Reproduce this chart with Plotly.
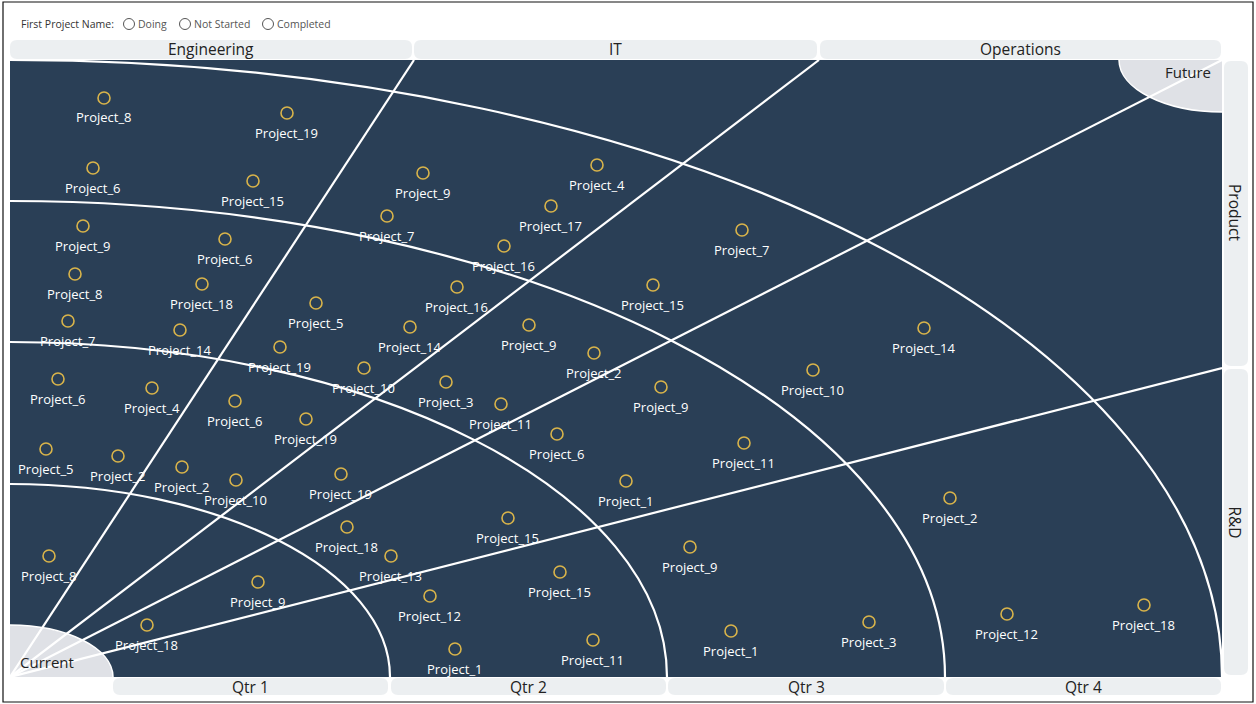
import plotly.graph_objects as go

W, H = 1256, 704
project_names = ["Project_8","Project_19","Project_6","Project_15","Project_9","Project_4","Project_17","Project_7","Project_9","Project_6",
 "Project_7","Project_16","Project_8","Project_18","Project_16","Project_15","Project_5","Project_7","Project_14","Project_14",
 "Project_9","Project_14","Project_19","Project_2","Project_10","Project_10","Project_6","Project_4","Project_3","Project_9",
 "Project_6","Project_11","Project_19","Project_6","Project_11","Project_5","Project_2","Project_2","Project_10","Project_19",
 "Project_1","Project_2","Project_15","Project_18","Project_9","Project_13","Project_8","Project_15","Project_9","Project_12",
 "Project_18","Project_12","Project_3","Project_18","Project_1","Project_11","Project_1"]
time_values = [104,287,93,253,423,597,551,387,83,225,
 742,504,75,202,457,653,316,68,180,410,
 529,924,280,594,364,813,58,152,446,661,
 235,501,306,557,744,46,118,182,236,341,
 626,950,508,347,690,391,49,560,258,430,
 1144,1007,869,147,731,593,455]
scope_values = [98,113,168,181,173,165,206,216,226,239,
 230,246,274,284,287,285,303,321,330,327,
 325,328,347,353,368,370,379,388,382,387,
 401,404,419,434,443,449,456,467,480,474,
 481,498,518,527,547,556,556,572,582,596,
 605,614,622,625,631,640,649]
column_labels = ["Engineering", "IT", "Operations"]
row_labels = ["Product", "R&D"]
quarter_labels = ["Qtr 1", "Qtr 2", "Qtr 3", "Qtr 4"]
status_labels = ["Doing", "Not Started", "Completed"]
arc_radii_x = [380, 657, 935, 1212]
arc_radii_y = [193, 335, 476, 617]
ray_ends_x = [414, 819, 1222, 1222]
ray_ends_y = [60, 60, 60, 368]

L, R, T, B = 10, 1222, 60, 677
NAVY, WHITE, PALE, STRIP = "#2a3f56", "#ffffff", "#dfe1e6", "#eceff1"
FONT = "Open Sans"
K = 0.5523
shapes, annos = [], []

def quarter(cx, cy, rx, ry, sx, sy, close=False):
    p = (f"M {cx+sx*rx},{cy} C {cx+sx*rx},{cy+sy*K*ry} {cx+sx*K*rx},{cy+sy*ry} {cx},{cy+sy*ry}")
    return p + (f" L {cx},{cy} Z" if close else "")

def round_rect(x0, y0, x1, y1, r=7):
    fx = lambda v: v / W
    fy = lambda v: 1 - v / H
    p = (f"M {fx(x0+r)},{fy(y0)} L {fx(x1-r)},{fy(y0)} Q {fx(x1)},{fy(y0)} {fx(x1)},{fy(y0+r)} "
         f"L {fx(x1)},{fy(y1-r)} Q {fx(x1)},{fy(y1)} {fx(x1-r)},{fy(y1)} L {fx(x0+r)},{fy(y1)} "
         f"Q {fx(x0)},{fy(y1)} {fx(x0)},{fy(y1-r)} L {fx(x0)},{fy(y0+r)} Q {fx(x0)},{fy(y0)} {fx(x0+r)},{fy(y0)} Z")
    shapes.append(dict(type="path", xref="paper", yref="paper", path=p, fillcolor=STRIP, line_width=0, layer="below"))

def label(text, px, py, size=15, color="#222222", angle=0, anchor="center"):
    annos.append(dict(text=text, xref="paper", yref="paper", x=px / W, y=1 - py / H, showarrow=False,
                      xanchor=anchor, yanchor="middle", textangle=angle, font=dict(family=FONT, size=size, color=color)))

# corner zones
shapes.append(dict(type="path", xref="x", yref="y", path=quarter(L, B, 103, 52, 1, -1, True), fillcolor=PALE, line_width=0, layer="below"))
shapes.append(dict(type="path", xref="x", yref="y", path=quarter(R, T, 103, 52, -1, 1, True), fillcolor=PALE, line_width=0, layer="below"))
shapes.append(dict(type="path", xref="x", yref="y", path=quarter(R, T, 103, 52, -1, 1), line=dict(color=WHITE, width=1.5), layer="below"))
shapes.append(dict(type="path", xref="x", yref="y", path=quarter(L, B, 103, 52, 1, -1), line=dict(color=WHITE, width=1.5), layer="below"))
# arcs and rays
for rx, ry in zip(arc_radii_x, arc_radii_y):
    shapes.append(dict(type="path", xref="x", yref="y", path=quarter(L, B, rx, ry, 1, -1), line=dict(color=WHITE, width=2.2), layer="below"))
for ex, ey in zip(ray_ends_x, ray_ends_y):
    shapes.append(dict(type="line", xref="x", yref="y", x0=L, y0=B, x1=ex, y1=ey, line=dict(color=WHITE, width=2.2), layer="below"))

# header strips
for text, (x0, x1) in zip(column_labels, [(10, 412), (414, 817), (820, 1221)]):
    round_rect(x0, 40, x1, 59)
    label(text, (x0 + x1) / 2, 49, size=15.5)
for text, (x0, x1) in zip(quarter_labels, [(113, 388), (391, 666), (668, 944), (946, 1221)]):
    round_rect(x0, 678, x1, 695)
    label(text, (x0 + x1) / 2, 687, size=15.5)
for text, (y0, y1) in zip(row_labels, [(61, 366), (369, 675)]):
    round_rect(1224, y0, 1248, y1)
    label(text, 1234.5, (y0 + y1) / 2 - (1 if text == "Product" else 0), size=15.5, angle=90)

label("Future", 1188, 72)
label("Current", 47, 662)

# status filter
label("First Project Name:", 18.5, 24, size=10.5, color="#333333", anchor="left")
for text, cx in zip(status_labels, [129, 185, 268]):
    shapes.append(dict(type="circle", xref="paper", yref="paper", x0=(cx - 5.5) / W, x1=(cx + 5.5) / W,
                       y0=1 - (24 + 5.5) / H, y1=1 - (24 - 5.5) / H, line=dict(color="#555555", width=1), fillcolor="white"))
    label(text, cx + 6.5, 24, size=10.5, color="#555555", anchor="left")

# frame
shapes.append(dict(type="rect", xref="paper", yref="paper", x0=3 / W, x1=1253 / W, y0=1 - 702 / H, y1=1 - 2 / H,
                   line=dict(color="#111111", width=1.2), fillcolor="rgba(0,0,0,0)", layer="below"))

for name, x, y in zip(project_names, time_values, scope_values):
    annos.append(dict(text=name, x=x - 0.5, y=y, xref="x", yref="y", yshift=-19.5, showarrow=False,
                      font=dict(family=FONT, size=13, color="white")))

fig = go.Figure(go.Scatter(x=time_values, y=scope_values, mode="markers", text=project_names, hoverinfo="text",
                           marker=dict(symbol="circle-open", size=12, color="#d9b44a", line=dict(width=1.6, color="#d9b44a"))))
fig.update_layout(width=W, height=H, margin=dict(l=0, r=0, t=0, b=0), paper_bgcolor="white", plot_bgcolor=NAVY,
                  showlegend=False, shapes=shapes, annotations=annos,
                  xaxis=dict(range=[L, R], domain=[L / W, R / W], visible=False, fixedrange=True),
                  yaxis=dict(range=[B, T], domain=[1 - B / H, 1 - T / H], visible=False, fixedrange=True))
fig.write_html("out.html", config=dict(displayModeBar=False),
               post_script="document.body.style.margin='0';document.body.style.overflow='hidden';")
